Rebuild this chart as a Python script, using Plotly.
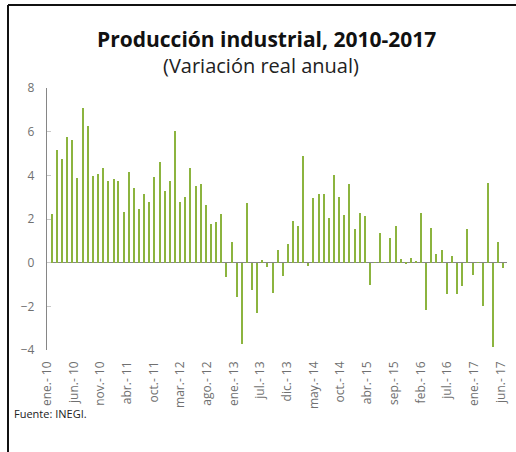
import pandas as pd
import plotly.graph_objects as go

# ---------------- data ----------------
# Monthly dates, ene-2010 .. jun-2017
months = pd.date_range("2010-01-01", "2017-06-01", freq="MS")

# Annual real variation (%) of industrial production.
# The Jan-2010 bar sits under the value axis and cannot be read.
values_2010 = [None, 2.22, 5.14, 4.73, 5.74, 5.64, 3.87, 7.10, 6.24, 3.96, 4.07, 4.34]
values_2011 = [3.73, 3.82, 3.73, 2.34, 4.14, 3.41, 2.46, 3.14, 2.78, 3.92, 4.60, 3.29]
values_2012 = [3.73, 6.05, 2.78, 3.00, 4.32, 3.51, 3.61, 2.64, 1.78, 1.87, 2.23, -0.67]
values_2013 = [0.94, -1.58, -3.72, 2.73, -1.26, -2.32, 0.14, -0.21, -1.40, 0.59, -0.62, 0.86]
values_2014 = [1.91, 1.68, 4.87, -0.14, 2.96, 3.14, 3.14, 2.05, 4.01, 3.00, 2.19, 3.60]
values_2015 = [1.52, 2.28, 2.14, -1.03, 0.03, 1.34, 0.03, 1.15, 1.68, 0.18, -0.08, 0.20]
values_2016 = [0.05, 2.29, -2.17, 1.59, 0.41, 0.56, -1.44, 0.32, -1.44, -1.08, 1.55, -0.58]
values_2017 = [0.02, -1.99, 3.63, -3.88, 0.96, -0.26]

values = (values_2010 + values_2011 + values_2012 + values_2013 +
          values_2014 + values_2015 + values_2016 + values_2017)

tick_labels = ["ene.- 10", "jun.- 10", "nov.- 10", "abr.- 11", "oct.- 11", "mar.- 12",
               "ago.- 12", "ene.- 13", "jul.- 13", "dic.- 13", "may.- 14", "oct.- 14",
               "abr.- 15", "sep.- 15", "feb.- 16", "jul.- 16", "ene.- 17", "jun.- 17"]
y_ticks = [-4, -2, 0, 2, 4, 6, 8]

title_text = "<b>Producción industrial, 2010-2017</b>"
subtitle_text = "(Variación real anual)"
source_text = "Fuente: INEGI."

# ---------------- layout constants ----------------
W, H = 516, 452
ML, MR, MT, MB = 47, 9, 88, 102
PW, PH = W - ML - MR, H - MT - MB
BAR_COLOR = "#8CB43F"
GRAY_TXT = "#707070"
FONT = "Open Sans"

def px_x(px):
    return (px - ML) / PW

def px_y(py):
    return (H - MB - py) / PH

# tick positions: regularly spaced along the date axis
start = pd.Timestamp("2010-01-01")
tick_step_days = 158.4
tick_vals = [start + pd.Timedelta(days=tick_step_days * k) for k in range(len(tick_labels))]

bar_width_ms = 7 * 24 * 3600 * 1000

fig = go.Figure()
fig.add_trace(go.Bar(
    x=months, y=values,
    width=bar_width_ms,
    marker=dict(color=BAR_COLOR, line=dict(width=0)),
    showlegend=False,
))

fig.update_layout(
    width=W, height=H,
    margin=dict(l=ML, r=MR, t=MT, b=MB, pad=0, autoexpand=False),
    paper_bgcolor="white", plot_bgcolor="white",
    font=dict(family=FONT, color=GRAY_TXT),
    bargap=0,
    xaxis=dict(
        type="date",
        range=["2010-01-01", "2017-06-23"],
        tickmode="array", tickvals=tick_vals, ticktext=tick_labels,
        tickangle=-90, ticks="", showline=False, showgrid=False, zeroline=False,
        tickfont=dict(family=FONT, size=12, color=GRAY_TXT),
        ticklabelstandoff=8,
    ),
    yaxis=dict(
        range=[-4, 8], tickmode="array", tickvals=y_ticks,
        showline=True, linecolor="#868686", linewidth=1.3,
        ticks="inside", ticklen=4, tickcolor="#C8C8C8", tickwidth=1.3,
        showgrid=False,
        zeroline=True, zerolinecolor="#868686", zerolinewidth=1.3,
        tickfont=dict(family=FONT, size=12, color=GRAY_TXT),
        ticklabelstandoff=9,
    ),
    annotations=[
        dict(text=title_text, xref="paper", yref="paper", x=px_x(266.5), y=px_y(38.5),
             xanchor="center", yanchor="middle", showarrow=False,
             font=dict(family=FONT, size=21, color="#111111")),
        dict(text=subtitle_text, xref="paper", yref="paper", x=px_x(260.5), y=px_y(65.5),
             xanchor="center", yanchor="middle", showarrow=False,
             font=dict(family=FONT, size=20, color="#222222")),
        dict(text=source_text, xref="paper", yref="paper", x=px_x(12), y=px_y(413),
             xanchor="left", yanchor="middle", showarrow=False,
             font=dict(family=FONT, size=11, color="#222222")),
    ],
    shapes=[
        dict(type="line", xref="paper", yref="paper", x0=px_x(8), x1=px_x(8),
             y0=px_y(5), y1=px_y(470), line=dict(color="#111111", width=2)),
        dict(type="line", xref="paper", yref="paper", x0=px_x(8), x1=px_x(540),
             y0=px_y(5), y1=px_y(5), line=dict(color="#111111", width=2)),
    ],
)

fig.write_html("out.html",
               config={"displayModeBar": False},
               post_script="document.body.style.margin='0';document.body.style.padding='0';")
